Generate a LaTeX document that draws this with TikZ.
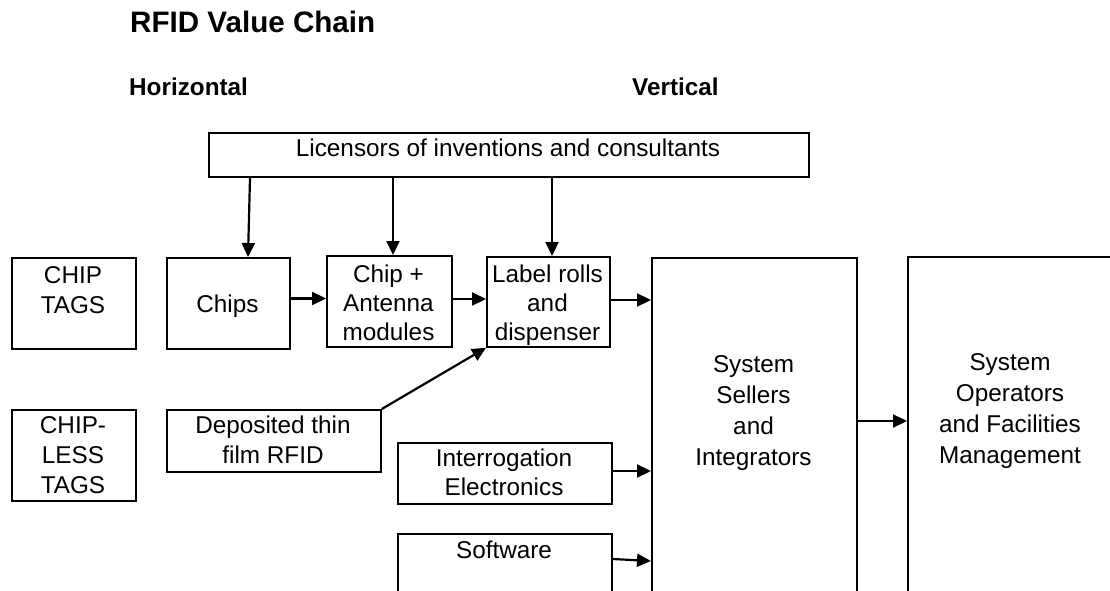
\documentclass[tikz,border=0pt]{standalone}
\usepackage{fontspec}
\setmainfont{Liberation Sans}
\usetikzlibrary{arrows.meta}
\tikzset{
  box/.style={draw=black, line width=1.8pt, rectangle, inner sep=0pt, anchor=north west},
  txt/.style={inner sep=0pt, align=center, anchor=base, font=\fontsize{24.3}{30}\selectfont},
  hdr/.style={inner sep=0pt, anchor=base west, font=\fontsize{24.3}{30}\selectfont\bfseries},
  arr/.style={line width=2.2pt, -{Triangle[length=14pt,width=13pt]}, shorten >=0pt}
}
\begin{document}
\begin{tikzpicture}[x=1pt,y=-1pt]
\useasboundingbox (0,0) rectangle (1110,591);
\clip (0,0) rectangle (1110,591);
% titles
\node[inner sep=0pt, anchor=base west, font=\fontsize{29.6}{34}\selectfont\bfseries] (title) at (130,33) {RFID Value Chain};
\node[hdr] (horiz) at (129,96) {Horizontal};
\node[hdr] (vert) at (632,96) {Vertical};
% boxes
\node[box, minimum width=600, minimum height=44] (lic) at (208,132) {};
\node[box, minimum width=124, minimum height=91] (tags) at (11,257) {};
\node[box, minimum width=124, minimum height=91] (chipless) at (11,409) {};
\node[box, minimum width=123, minimum height=91] (chips) at (166,257) {};
\node[box, minimum width=125, minimum height=91] (cam) at (326,255) {};
\node[box, minimum width=123, minimum height=90] (label) at (486,256) {};
\node[box, minimum width=214, minimum height=62] (dep) at (166,409) {};
\node[box, minimum width=214, minimum height=61] (inter) at (397,442) {};
\node[box, minimum width=214, minimum height=100] (soft) at (397,533) {};
\node[box, minimum width=205, minimum height=360] (si) at (651,257) {};
\node[box, minimum width=230, minimum height=336] (sysop) at (907,256) {};
% texts (anchor = baseline of last line)
\node[txt] (licT) at (508,157) {Licensors of inventions and consultants};
\node[txt] (tagsT) at (73,313) {CHIP\\TAGS};
\node[txt] (chiplessT) at (73,493) {CHIP-\\LESS\\TAGS};
\node[txt] (chipsT) at (227.5,312) {Chips};
\node[txt, font=\fontsize{24.3}{29}\selectfont] (camT) at (388.5,340) {Chip +\\Antenna\\modules};
\node[txt, font=\fontsize{24.3}{29}\selectfont] (labelT) at (547.5,340) {Label rolls\\and\\dispenser};
\node[txt] (depT) at (273,463) {Deposited thin\\film RFID};
\node[txt, font=\fontsize{24.3}{29}\selectfont] (interT) at (504,495) {Interrogation\\Electronics};
\node[txt] (softT) at (504,558) {Software};
\node[txt, font=\fontsize{24.3}{30.7}\selectfont] (siT) at (753.5,465) {System\\Sellers\\and\\Integrators};
\node[txt, font=\fontsize{24.3}{30.7}\selectfont] (sysopT) at (1010,463) {System\\Operators\\and Facilities\\Management};
% connectors
\draw[arr] (lic.south -| 250,0) -- (chips.north -| 248,0);
\draw[arr] (lic.south -| 393,0) -- (cam.north -| 393,0);
\draw[arr] (lic.south -| 552,0) -- (label.north -| 552,0);
\draw[arr] (chips.east |- 0,298.5) -- (cam.west |- 0,298.5);
\draw[arr] (cam.east |- 0,299) -- (label.west |- 0,299);
\draw[arr] (label.east |- 0,300) -- (si.west |- 0,300);
\draw[arr] (dep.north east) -- (label.south west);
\draw[arr] (inter.east |- 0,471) -- (si.west |- 0,471);
\draw[arr] (soft.east |- 0,559) -- (si.west |- 0,561);
\draw[arr] (si.east |- 0,421) -- (sysop.west |- 0,421);
\end{tikzpicture}
\end{document}
